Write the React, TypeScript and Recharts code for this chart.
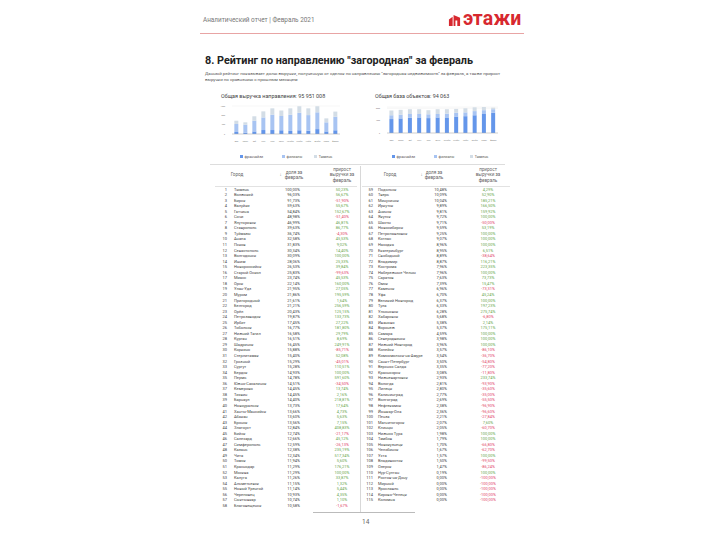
import { BarChart, Bar, XAxis, YAxis, CartesianGrid } from 'recharts';

// Months shown on both small charts (March 2020 – February 2021)
const MONTHS = ['март', 'апрель', 'май', 'июнь', 'июль', 'август', 'сентябрь', 'октябрь', 'ноябрь', 'декабрь', 'январь', 'февраль'];

// Revenue, millions of rubles
const REV_FRANCHISE = [8.6, 6, 11, 17, 17, 16, 13, 16, 14, 21, 11, 16];
const REV_BRANCHES = [34.4, 34, 46, 54, 66, 61, 70, 75, 67, 72, 39, 58];
const REV_TYUMEN = [14, 10, 19, 26, 27, 24, 27, 28, 29, 26, 17, 22];
const REV_TICKS = [0, 20, 40, 60, 80, 100, 120];

// Object base, units
const OBJ_FRANCHISE = [4510, 4720, 4920, 5030, 4820, 5030, 5030, 5330, 5440, 5740, 6150, 6560];
const OBJ_BRANCHES = [1230, 1230, 1230, 1120, 1230, 1120, 1230, 1230, 1230, 1340, 1230, 1130];
const OBJ_TYUMEN = [1540, 1540, 1540, 1540, 1330, 1540, 1430, 1230, 1330, 1230, 1030, 510];
const OBJ_TICKS = [0, 2000, 4000, 6000, 8000];

const SERIES_NAMES = ['франчайзи', 'филиалы', 'Тюмень'];
const SERIES_COLORS = ['#6496ea', '#a8c4f2', '#d3dde6'];

// Rating table
const CITIES = [
  'Тюмень', 'Волжский', 'Бирск', 'Валуйки', 'Гатчина', 'Сочи', 'Ялуторовск', 'Ставрополь', 'Туймазы', 'Анапа',
  'Псков', 'Севастополь', 'Волгодонск', 'Ишим', 'Новороссийск', 'Старый Оскол', 'Миасс', 'Орск', 'Улан-Удэ', 'Муром',
  'Пригородный', 'Белгород', 'Орёл', 'Петрозаводск', 'Ирбит', 'Тобольск', 'Нижний Тагил', 'Курган', 'Шадринск', 'Коркино',
  'Стерлитамак', 'Грозный', 'Сургут', 'Бердск', 'Пермь', 'Южно-Сахалинск', 'Кемерово', 'Тихвин', 'Барнаул', 'Новоуральск',
  'Ханты-Мансийск', 'Абакан', 'Брянск', 'Златоуст', 'Бийск', 'Салехард', 'Симферополь', 'Казань', 'Чита', 'Томск',
  'Краснодар', 'Москва', 'Калуга', 'Альметьевск', 'Новый Уренгой', 'Череповец', 'Сыктывкар', 'Благовещенск',
  'Подольск', 'Тверь', 'Минусинск', 'Иркутск', 'Ачинск', 'Якутск', 'Шахты', 'Новосибирск', 'Петропавловск', 'Котлас',
  'Находка', 'Екатеринбург', 'Свободный', 'Владимир', 'Кострома', 'Набережные Челны', 'Саратов', 'Омск', 'Каменск', 'Уфа',
  'Великий Новгород', 'Тула', 'Ульяновск', 'Хабаровск', 'Иваново', 'Воронеж', 'Самара', 'Северодвинск', 'Нижний Новгород', 'Копейск',
  'Комсомольск-на-Амуре', 'Санкт-Петербург', 'Верхняя Салда', 'Красноярск', 'Нижневартовск', 'Вологда', 'Липецк', 'Калининград', 'Волгоград', 'Нефтекамск',
  'Йошкар-Ола', 'Пенза', 'Магнитогорск', 'Клинцы', 'Нижняя Тура', 'Тамбов', 'Новокузнецк', 'Челябинск', 'Ухта', 'Владивосток',
  'Озерск', 'Нур-Султан', 'Ростов-на-Дону', 'Мирный', 'Ярославль', 'Кирово-Чепецк', 'Коломна',
];
const SHARES = [
  100.0, 96.03, 91.73, 59.63, 54.84, 48.98, 46.99, 39.63, 36.74, 32.58,
  31.83, 30.34, 30.09, 28.06, 26.53, 25.83, 23.74, 22.14, 21.95, 21.86,
  21.61, 21.21, 20.43, 19.87, 17.45, 16.77, 16.58, 16.51, 16.45, 15.88,
  15.4, 15.29, 15.28, 14.93, 14.78, 14.51, 14.45, 14.45, 14.4, 13.73,
  13.66, 13.6, 13.56, 12.84, 12.74, 12.66, 12.59, 12.38, 12.34, 11.94,
  11.29, 11.29, 11.26, 11.15, 11.14, 10.93, 10.74, 10.58,
  10.48, 10.09, 10.04, 9.89, 9.81, 9.72, 9.71, 9.59, 9.25, 9.07,
  8.96, 8.95, 8.89, 8.87, 7.96, 7.96, 7.63, 7.39, 6.96, 6.7,
  6.37, 6.33, 6.28, 5.68, 5.38, 5.37, 4.59, 3.98, 3.96, 3.57,
  3.54, 3.5, 3.35, 3.08, 2.93, 2.81, 2.8, 2.77, 2.69, 2.38,
  2.36, 2.21, 2.07, 2.05, 1.98, 1.79, 1.7, 1.67, 1.57, 1.5,
  1.47, 0.19, 0, 0, 0, 0, 0,
];
const GROWTH = [
  50.23, 56.67, -51.9, 55.67, 152.67, -51.4, 46.81, 86.77, -4.3, 45.53,
  9.02, 14.4, 100.0, 25.33, 39.84, -99.63, 45.53, 160.0, 27.05, 195.59,
  1.64, 256.59, 125.15, 133.73, 27.22, 181.8, 29.79, 8.69, 249.91, -85.71,
  52.08, -45.01, 110.51, 100.0, 591.6, -34.5, 13.74, 2.16, 218.81, 17.64,
  4.73, 5.63, 7.15, 408.83, -21.17, 45.12, -26.13, 235.19, 517.34, 5.6,
  176.21, 100.0, 33.87, 1.32, 5.44, 4.35, 1.1, -1.67,
  4.29, 52.9, 185.21, 166.5, 159.92, 100.0, -50.0, 53.19, 100.0, 100.0,
  100.0, 6.51, -38.64, 116.21, 223.35, 100.0, 73.73, 15.47, -73.31, 45.24,
  100.0, 197.23, 275.74, -6.8, 2.14, 175.11, 100.0, 100.0, 100.0, -86.1,
  -36.7, -54.8, -77.2, -11.8, 233.74, -93.9, -35.6, -35.0, -55.5, -96.9,
  -96.6, -27.84, 7.6, -60.7, 100.0, 100.0, -66.8, -62.7, 100.0, -99.5,
  -86.24, 100.0, -100.0, -100.0, -100.0, -100.0, -100.0,
];

const LEFT_ROWS = 58;
const ROW_H = 5.55;
const FONT = 'Roboto, "Liberation Sans", sans-serif';

const fmtPct = (v: number) => v.toFixed(2).replace('.', ',') + '%';

const revenueData = MONTHS.map((m, i) => ({
  month: m,
  fr: REV_FRANCHISE[i],
  br: REV_BRANCHES[i],
  ty: REV_TYUMEN[i],
}));

const objectData = MONTHS.map((m, i) => ({
  month: m,
  fr: OBJ_FRANCHISE[i],
  br: OBJ_BRANCHES[i],
  ty: OBJ_TYUMEN[i],
}));

function MiniChart({ data, ticks, width, height, fmt }: {
  data: Array<Record<string, string | number>>;
  ticks: number[];
  width: number;
  height: number;
  fmt: (v: number) => string;
}) {
  return (
    <BarChart width={width} height={height} data={data} margin={{ top: 4, right: 2, bottom: 0, left: 0 }} barCategoryGap="26%">
      <CartesianGrid vertical={false} stroke="#ececec" strokeWidth={0.5} />
      <XAxis
        dataKey="month"
        interval={0}
        tickLine={false}
        axisLine={{ stroke: '#aaa', strokeWidth: 0.5 }}
        height={8}
        tick={{ fontSize: 1.6, fill: '#777' }}
        tickMargin={1}
      />
      <YAxis
        width={14}
        domain={[ticks[0], ticks[ticks.length - 1]]}
        ticks={ticks}
        tickLine={false}
        axisLine={false}
        tickFormatter={fmt}
        tick={{ fontSize: 1.8, fill: '#777' }}
        tickMargin={1}
      />
      <Bar dataKey="fr" stackId="a" fill={SERIES_COLORS[0]} isAnimationActive={false} />
      <Bar dataKey="br" stackId="a" fill={SERIES_COLORS[1]} isAnimationActive={false} />
      <Bar dataKey="ty" stackId="a" fill={SERIES_COLORS[2]} isAnimationActive={false} />
    </BarChart>
  );
}

function MiniLegend({ left, top, gaps }: { left: number; top: number; gaps: number[] }) {
  return (
    <div style={{ position: 'absolute', left, top, display: 'flex', fontSize: 3.6, color: '#555', lineHeight: '4px' }}>
      {SERIES_NAMES.map((n, i) => (
        <div key={n} style={{ display: 'flex', alignItems: 'center', marginRight: gaps[i] }}>
          <span style={{ width: 3, height: 3, background: SERIES_COLORS[i], marginRight: 1.5, display: 'inline-block' }} />
          {n}
        </div>
      ))}
    </div>
  );
}

type Cols = { rank: number; name: number; share: number; growth: number; city: number; arrow: number; shareHead: number };

function TableBlock({ start, count, x }: { start: number; count: number; x: Cols }) {
  const rows = [];
  for (let i = start; i < start + count; i++) {
    const top = 186.5 + (i - start) * ROW_H;
    const g = GROWTH[i];
    rows.push(
      <div key={i}>
        <div style={{ position: 'absolute', left: x.rank - 20, width: 20, top, textAlign: 'right' }}>{i + 1}</div>
        <div style={{ position: 'absolute', left: x.name, top, whiteSpace: 'nowrap' }}>{CITIES[i]}</div>
        <div style={{ position: 'absolute', left: x.share - 30, width: 30, top, textAlign: 'right' }}>{fmtPct(SHARES[i])}</div>
        <div style={{ position: 'absolute', left: x.growth - 20, width: 40, top, textAlign: 'center', color: g < 0 ? '#e2476b' : '#6aa84f' }}>
          {fmtPct(g)}
        </div>
      </div>
    );
  }
  return (
    <div style={{ fontSize: 4, lineHeight: `${ROW_H}px`, color: '#444' }}>
      <div style={{ position: 'absolute', left: x.city - 20, width: 40, top: 172, textAlign: 'center', fontSize: 4.6, color: '#666' }}>Город</div>
      <div style={{ position: 'absolute', left: x.arrow, top: 172, fontSize: 4.6, color: '#888' }}>↓</div>
      <div style={{ position: 'absolute', left: x.shareHead - 20, width: 40, top: 169.5, textAlign: 'center', fontSize: 4.6, lineHeight: '5.5px', color: '#666' }}>
        доля за<br />февраль
      </div>
      <div style={{ position: 'absolute', left: x.growth - 20, width: 40, top: 166.5, textAlign: 'center', fontSize: 4.6, lineHeight: '5.5px', color: '#666' }}>
        прирост<br />выручки за<br />февраль
      </div>
      {rows}
    </div>
  );
}

export default function App() {
  return (
    <div style={{ position: 'absolute', left: 0, top: 0, width: 720, height: 540, background: '#fff', fontFamily: FONT, overflow: 'hidden' }}>
      {/* Header */}
      <div style={{ position: 'absolute', left: 203, top: 16, fontSize: 6.4, color: '#777', whiteSpace: 'nowrap' }}>
        Аналитический отчет | Февраль 2021
      </div>
      <svg style={{ position: 'absolute', left: 448, top: 14 }} width={13} height={13} viewBox="0 0 14 14">
        <polygon points="1,13 1,6 5,3 5,13" fill="#d7282f" />
        <polygon points="6,13 6,1 13,4 13,13" fill="#d7282f" />
        <rect x={8} y={7} width={2} height={6} fill="#fff" />
      </svg>
      <div style={{ position: 'absolute', left: 463, top: 6.5, fontSize: 19.5, fontWeight: 700, color: '#d7282f', letterSpacing: 0.2 }}>
        этажи
      </div>
      <div style={{ position: 'absolute', left: 200, top: 33, width: 324, height: 1, background: '#e8a4a4' }} />

      {/* Title */}
      <div style={{ position: 'absolute', left: 205, top: 54, fontSize: 10.8, fontWeight: 700, color: '#222', whiteSpace: 'nowrap' }}>
        8. Рейтинг по направлению "загородная" за февраль
      </div>
      <div style={{ position: 'absolute', left: 205, top: 70.5, width: 305, fontSize: 4.4, lineHeight: '6px', color: '#555' }}>
        Данный рейтинг показывает долю выручки, полученную от сделок по направлению "загородная недвижимость" за февраль, а
        также прирост выручки по сравнению с прошлым месяцем
      </div>

      {/* Charts */}
      <div style={{ position: 'absolute', left: 221, top: 92.5, fontSize: 5.4, color: '#444', whiteSpace: 'nowrap' }}>
        Общая выручка направления: 95 951 008
      </div>
      <div style={{ position: 'absolute', left: 218, top: 101.7 }}>
        <MiniChart data={revenueData} ticks={REV_TICKS} width={124} height={40} fmt={(v) => (v === 0 ? '0' : `${v}M`)} />
      </div>
      <MiniLegend left={240} top={154.7} gaps={[19, 12, 0]} />

      <div style={{ position: 'absolute', left: 375, top: 92.5, fontSize: 5.4, color: '#444', whiteSpace: 'nowrap' }}>
        Общая база объектов: 94 063
      </div>
      <div style={{ position: 'absolute', left: 373, top: 103 }}>
        <MiniChart data={objectData} ticks={OBJ_TICKS} width={127} height={38} fmt={(v) => String(v)} />
      </div>
      <MiniLegend left={392} top={154.7} gaps={[19, 16, 0]} />

      <div style={{ position: 'absolute', left: 210, top: 164, width: 295, height: 0.6, background: '#ddd' }} />

      {/* Tables */}
      <TableBlock
        start={0}
        count={LEFT_ROWS}
        x={{ rank: 227, name: 234, share: 300, growth: 342, city: 237, arrow: 279.5, shareHead: 294 }}
      />
      <TableBlock
        start={LEFT_ROWS}
        count={CITIES.length - LEFT_ROWS}
        x={{ rank: 373, name: 378, share: 447, growth: 488, city: 390, arrow: 420.5, shareHead: 434 }}
      />
      <div style={{ position: 'absolute', left: 215, top: 185.5, width: 142, height: 0.5, background: '#e2e2e2' }} />
      <div style={{ position: 'absolute', left: 362, top: 185.5, width: 148, height: 0.5, background: '#e2e2e2' }} />
      <div style={{ position: 'absolute', left: 360, top: 166, width: 0.6, height: 346, background: '#d8d8d8' }} />
      <div style={{ position: 'absolute', left: 313, top: 512, width: 102, height: 1.2, background: '#bbb' }} />

      <div style={{ position: 'absolute', left: 362, top: 518, fontSize: 6.5, color: '#666' }}>14</div>
    </div>
  );
}
